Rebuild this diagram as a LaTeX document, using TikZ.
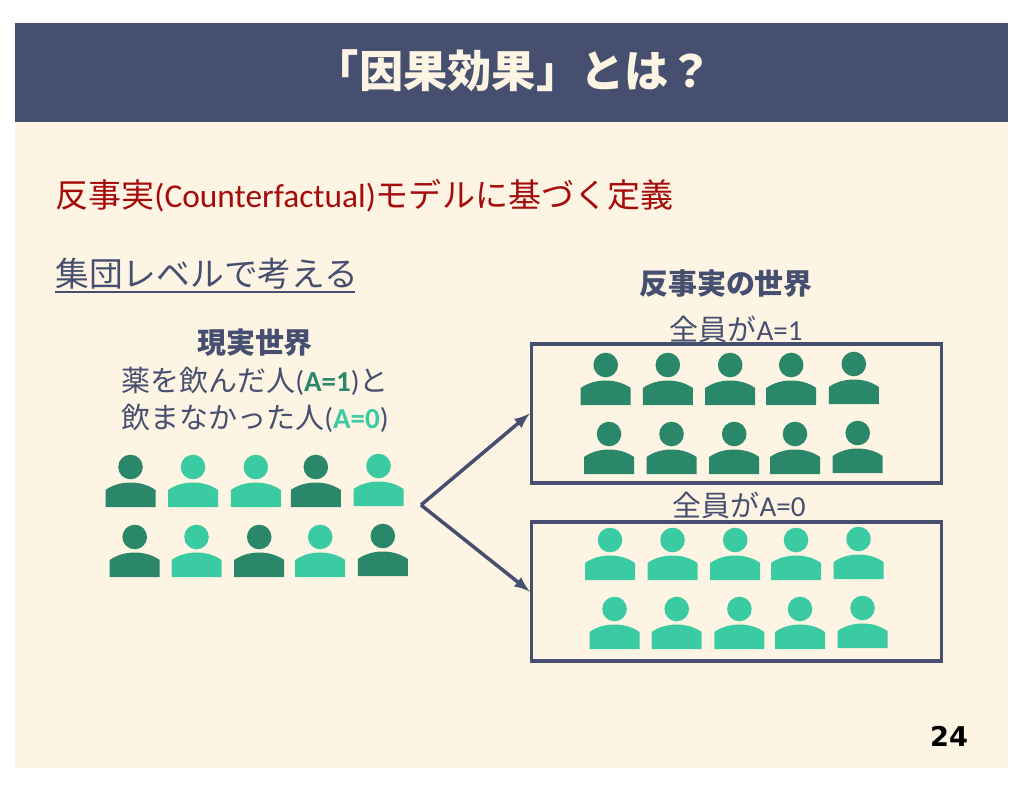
\documentclass[tikz,border=0pt]{standalone}
\usepackage{fontspec}
\setmainfont{Noto Sans CJK JP}
\newfontfamily\lat{Carlito}
\newfontfamily\num{DejaVu Sans}
\definecolor{slide}{HTML}{FEF4E3}
\definecolor{navy}{HTML}{464F6F}
\definecolor{darkred}{HTML}{A50B0B}
\definecolor{treated}{HTML}{2A8769}
\definecolor{untreated}{HTML}{3ACBA3}
\newcommand{\fsize}[1]{\fontsize{#1}{#1}\selectfont}
\newcommand{\person}[3]{%
\fill [#3] (#1,#2-40) circle (12.3);
\fill [#3] (#1-25,#2) -- (#1-25,#2-17) .. controls (#1-18,#2-22) and (#1-9,#2-24.5) .. (#1,#2-24.5) .. controls (#1+9,#2-24.5) and (#1+18,#2-22) .. (#1+25,#2-17) -- (#1+25,#2) -- cycle;
}
\tikzset{
  txt/.style={inner sep=0pt, text=navy},
  worldbox/.style={draw=navy, line width=2pt, minimum width=410*0.02cm, inner sep=0pt},
  link/.style={>=latex, ->, draw=navy, line width=2pt}
}
\begin{document}
\begin{tikzpicture}[x=0.02cm, y=-0.02cm]
\useasboundingbox (0,0) rectangle (1024,791);

\fill [slide] (15,23) rectangle (1008,768);
\fill [navy] (15,23) rectangle (1008,122);

\node [inner sep=0pt, text=slide, font=\bfseries\fsize{25.2}] (title) at (514,71) {「因果効果」とは？};
\node [anchor=west, inner sep=0pt, text=darkred, font=\fsize{18.8}] (defn) at (55,196) {反事実{\lat\fsize{19}(Counterfactual)}モデルに基づく定義};
\node [txt, anchor=west, font=\fsize{19.2}] (level) at (55,274) {集団レベルで考える};
\draw [navy, line width=1pt] (55,292) -- (355,292);

\node [txt, font=\bfseries\fsize{16.5}] (real) at (255,343) {現実世界};
\node [txt, font=\fsize{16.5}] (line1) at (255,381) {薬を飲んだ人{\lat(\textcolor{treated}{\bfseries A=1})}と};
\node [txt, font=\fsize{16.5}] (line2) at (255,418) {飲まなかった人{\lat(\textcolor{untreated}{\bfseries A=0})}};

\node [txt, font=\bfseries\fsize{16.5}] (cf) at (726,284) {反事実の世界};
\node [txt, font=\fsize{16.5}] (allone) at (736,329) {全員が{\lat A=1}};
\node [txt, font=\fsize{16.5}] (allzero) at (739,505) {全員が{\lat A=0}};

\node [worldbox, minimum height=139*0.02cm] (boxone) at (736.5,413.5) {};
\node [worldbox, minimum height=139*0.02cm] (boxzero) at (736.5,591.5) {};

\foreach \x/\y/\c in {130.5/507/treated, 193/507/untreated, 255.8/507/untreated, 315.8/507/treated, 378.5/506/untreated,
  134.7/577/treated, 196.5/577/untreated, 259.2/577/treated, 320.2/577/untreated, 382.8/576/treated,
  605.7/405/treated, 667.8/405/treated, 730.2/405/treated, 791.2/405/treated, 853.8/404/treated,
  609/474/treated, 671.5/474/treated, 734.2/474/treated, 795/474/treated, 857.7/473/treated,
  610/580/untreated, 672.5/580/untreated, 735.2/580/untreated, 796/580/untreated, 858.5/579/untreated,
  614.5/649/untreated, 676.7/649/untreated, 739.4/649/untreated, 800/649/untreated, 862.5/648/untreated}
{
\person{\x}{\y}{\c}
}

\coordinate (fork) at (421,505);
\draw [link] (fork) -- (boxone.west);
\draw [link] (fork) -- (boxzero.west);

\node [inner sep=0pt, text=black, font=\num\bfseries\fsize{15.5}] (page) at (949,736) {24};

\end{tikzpicture}
\end{document}
